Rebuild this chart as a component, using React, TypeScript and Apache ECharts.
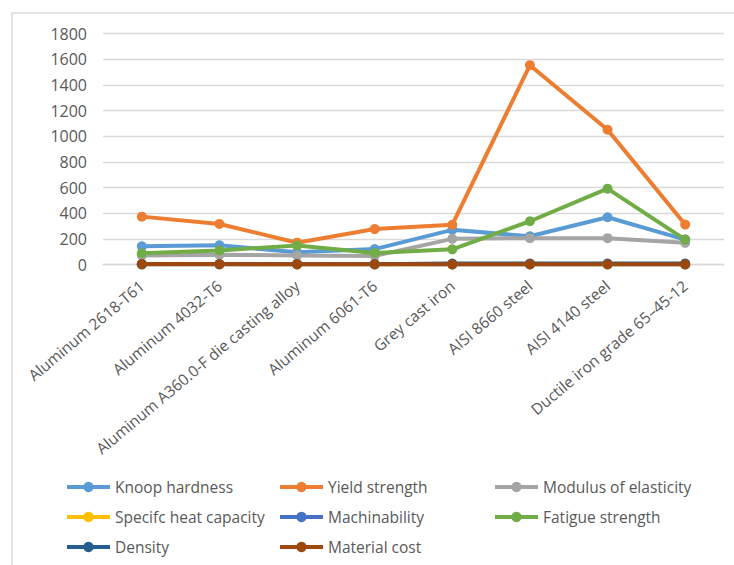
import React, { useEffect, useRef } from "react";
import * as echarts from "echarts";

const categories = [
  "Aluminum 2618-T61",
  "Aluminum 4032-T6",
  "Aluminum A360.0-F die casting alloy",
  "Aluminum 6061-T6",
  "Grey cast iron",
  "AISI 8660 steel",
  "AISI 4140 steel",
  "Ductile iron grade 65–45-12",
];

const knoopHardness = [142, 150, 95, 120, 270, 220, 368, 194];
const yieldStrength = [373, 316, 170, 276, 310, 1553, 1050, 311];
const modulusOfElasticity = [70, 76, 70, 67, 200, 205, 205, 169];
const specificHeatCapacity = [0.88, 0.86, 0.96, 0.9, 0.49, 0.48, 0.47, 0.51];
const machinability = [1.2, 1.0, 1.1, 1.3, 0.9, 0.6, 0.7, 0.8];
const fatigueStrength = [88, 110, 148, 90, 118, 337, 591, 194];
const density = [2.76, 2.68, 2.63, 2.7, 7.15, 7.85, 7.85, 7.1];
const materialCost = [3.5, 3.2, 2.5, 2.8, 1.0, 2.5, 2.0, 1.2];

const yTicks = { min: 0, max: 1800, interval: 200 };

const seriesDefs = [
  { name: "Knoop hardness", data: knoopHardness, color: "#5B9BD5" },
  { name: "Yield strength", data: yieldStrength, color: "#ED7D31" },
  { name: "Modulus of elasticity", data: modulusOfElasticity, color: "#A5A5A5" },
  { name: "Specifc heat capacity", data: specificHeatCapacity, color: "#FFC000" },
  { name: "Machinability", data: machinability, color: "#4472C4" },
  { name: "Fatigue strength", data: fatigueStrength, color: "#70AD47" },
  { name: "Density", data: density, color: "#255E91" },
  { name: "Material cost", data: materialCost, color: "#9E480E" },
];

const FONT = "'Open Sans', sans-serif";
const TEXT_COLOR = "#595959";

export default function App() {
  const ref = useRef<HTMLDivElement>(null);

  useEffect(() => {
    if (!ref.current) return;
    const chart = echarts.init(ref.current, undefined, { renderer: "svg" });

    const legendCommon = {
      orient: "vertical" as const,
      itemWidth: 43,
      itemHeight: 13,
      itemGap: 14,
      lineStyle: { width: 4 },
      textStyle: {
        fontFamily: FONT,
        fontSize: 15.5,
        color: TEXT_COLOR,
        lineHeight: 16,
      },
      padding: 0,
    };

    chart.setOption({
      animation: false,
      backgroundColor: "#ffffff",
      textStyle: { fontFamily: FONT },
      graphic: [
        {
          type: "rect",
          shape: { x: 12, y: 13, width: 740, height: 570 },
          style: { fill: "none", stroke: "#D9D9D9", lineWidth: 1.5 },
          silent: true,
          z: -10,
        },
      ],
      grid: {
        left: 103,
        right: 10,
        top: 33.5,
        bottom: 300.5,
        containLabel: false,
      },
      legend: [
        {
          ...legendCommon,
          left: 65,
          top: 479,
          data: ["Knoop hardness", "Specifc heat capacity", "Density"],
        },
        {
          ...legendCommon,
          left: 278,
          top: 479,
          data: ["Yield strength", "Machinability", "Material cost"],
        },
        {
          ...legendCommon,
          left: 493,
          top: 479,
          data: ["Modulus of elasticity", "Fatigue strength"],
        },
      ],
      xAxis: {
        type: "category",
        data: categories,
        boundaryGap: true,
        axisLine: { lineStyle: { color: "#D9D9D9", width: 1.3 } },
        axisTick: { show: false },
        axisLabel: {
          rotate: 40,
          interval: 0,
          margin: 19,
          fontFamily: FONT,
          fontSize: 15.5,
          color: TEXT_COLOR,
        },
      },
      yAxis: {
        type: "value",
        min: yTicks.min,
        max: yTicks.max,
        interval: yTicks.interval,
        axisLine: { show: false },
        axisTick: { show: false },
        splitLine: { lineStyle: { color: "#D9D9D9", width: 1.3 } },
        axisLabel: {
          margin: 16,
          fontFamily: FONT,
          fontSize: 16,
          color: TEXT_COLOR,
          formatter: (v: number) => String(v),
        },
      },
      series: seriesDefs.map((s) => ({
        name: s.name,
        type: "line",
        data: s.data,
        symbol: "circle",
        symbolSize: 10,
        showSymbol: true,
        itemStyle: { color: s.color },
        lineStyle: { color: s.color, width: 4 },
        emphasis: { disabled: true },
      })),
    });

    return () => {
      chart.dispose();
    };
  }, []);

  return (
    <div
      ref={ref}
      style={{
        position: "fixed",
        left: 0,
        top: 0,
        width: 734,
        height: 565,
        overflow: "hidden",
      }}
    />
  );
}
